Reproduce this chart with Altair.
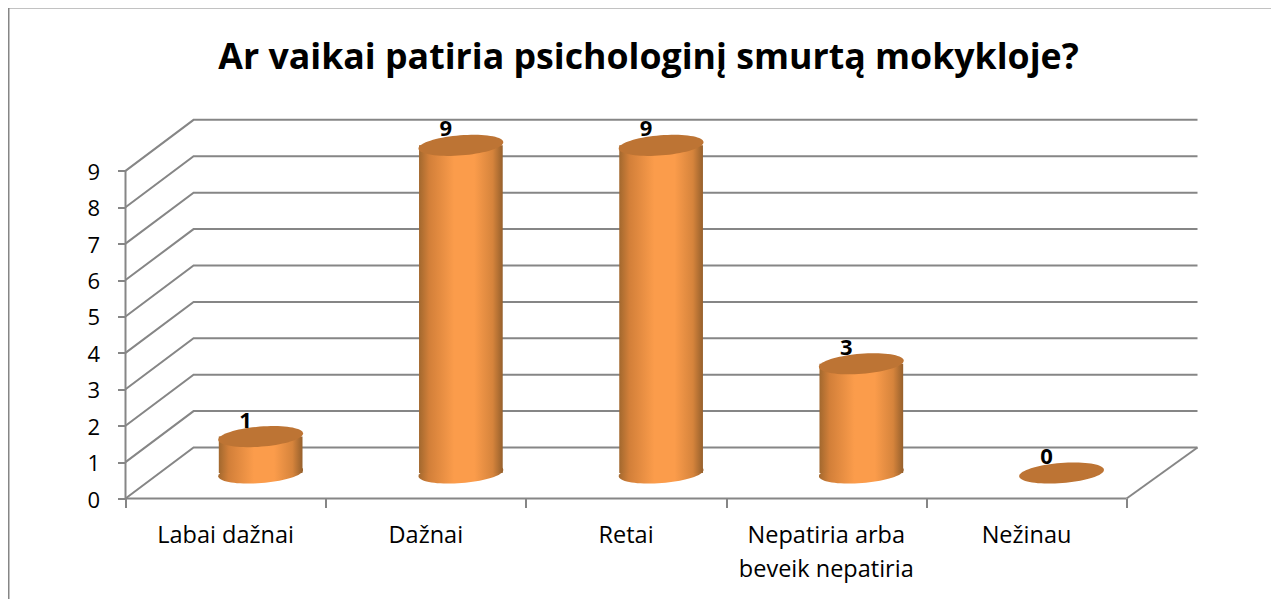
import math
import altair as alt
import pandas as pd

TITLE = "Ar vaikai patiria psichologinį smurtą mokykloje?"
CATEGORIES = ["Labai dažnai", "Dažnai", "Retai", "Nepatiria arba\nbeveik nepatiria", "Nežinau"]
VALUES = [1, 9, 9, 3, 0]
LEVELS = [0, 1, 2, 3, 4, 5, 6, 7, 8, 9]
CAT_TICKS = [0, 1, 2, 3, 4, 5]

FONT = "Open Sans"
GREY = "#868686"

# pseudo-3D geometry in data units
DEPTH_X0 = 0.34
DEPTH_X1 = 5.354
DEPTH_Y = 1.4
CENTER_X = 0.675
CENTER_Y = 0.7
HALF_W = 0.209

x_scale = alt.Scale(domain=[0, DEPTH_X1], nice=False, zero=False)
y_scale = alt.Scale(domain=[0, 10.41], nice=False, zero=False)

rows = []
for v in LEVELS:
    rows += [
        {"level": v, "x": 0, "y": v},
        {"level": v, "x": DEPTH_X0, "y": v + DEPTH_Y},
        {"level": v, "x": DEPTH_X1, "y": v + DEPTH_Y},
    ]
walls = pd.DataFrame(rows)
floor_right = pd.DataFrame([{"x": 5, "y": 0}, {"x": DEPTH_X1, "y": DEPTH_Y}])
cyl = pd.DataFrame({
    "cat": CATEGORIES,
    "value": VALUES,
    "mid": [i + CENTER_X for i in range(len(VALUES))],
})
cyl["left"] = cyl["mid"] - HALF_W
cyl["right"] = cyl["mid"] + HALF_W
cyl["base"] = CENTER_Y
cyl["top"] = cyl["value"] + CENTER_Y
cyl_body = cyl[cyl["value"] > 0]
cats = pd.DataFrame({"cat": CATEGORIES, "x": [i + 0.5 for i in range(len(CATEGORIES))], "y": [-0.70] * len(CATEGORIES)})

x_axis = alt.Axis(values=CAT_TICKS, labels=False, domain=False, grid=False, title=None,
                  tickSize=9, tickColor=GREY, tickWidth=2)
y_axis = alt.Axis(values=LEVELS, domain=False, grid=False, title=None, format="d",
                  tickSize=8, tickColor=GREY, tickWidth=2, labelFont=FONT, labelFontSize=22,
                  labelColor="#000000", labelPadding=18, labelOffset=1.5)
X = lambda f="x": alt.X(f"{f}:Q", scale=x_scale, axis=x_axis)
Y = lambda f="y": alt.Y(f"{f}:Q", scale=y_scale, axis=y_axis)

tilt = math.radians(-4.5)
pts = []
for k in range(72):
    t = 2 * math.pi * k / 72
    ex, ey = 0.995 * math.cos(t), 0.235 * math.sin(t)
    pts.append((ex * math.cos(tilt) - ey * math.sin(tilt), ex * math.sin(tilt) + ey * math.cos(tilt)))
ELLIPSE = "M" + "L".join(f"{a:.4f},{b:.4f}" for a, b in pts) + "Z"
ELLIPSE_SIZE = 85.5 ** 2

body_fill = alt.LinearGradient(
    gradient="linear", x1=0, x2=1, y1=0, y2=0,
    stops=[
        alt.GradientStop(color="#a2682e", offset=0),
        alt.GradientStop(color="#d27f39", offset=0.12),
        alt.GradientStop(color="#fb9c4b", offset=0.42),
        alt.GradientStop(color="#fb9c4b", offset=0.66),
        alt.GradientStop(color="#d6843c", offset=0.88),
        alt.GradientStop(color="#96602c", offset=1),
    ],
)

wall_lines = alt.Chart(walls).mark_line(color=GREY, strokeWidth=2).encode(x=X(), y=Y(), detail="level:N")
floor_line = alt.Chart(floor_right).mark_line(color=GREY, strokeWidth=2).encode(x=X(), y=Y())
front_x = alt.Chart(pd.DataFrame({"a": [0], "b": [5], "y": [0]})).mark_rule(color=GREY, strokeWidth=2).encode(
    x=X("a"), x2="b:Q", y=Y())
front_y = alt.Chart(pd.DataFrame({"x": [0], "a": [0], "b": [9]})).mark_rule(color=GREY, strokeWidth=2).encode(
    x=X(), y=Y("a"), y2="b:Q")

bottoms = alt.Chart(cyl_body).mark_point(shape=ELLIPSE, size=ELLIPSE_SIZE, filled=True, opacity=1, color=body_fill).encode(
    x=X("mid"), y=Y("base"))
bodies = alt.Chart(cyl_body).mark_bar(color=body_fill).encode(
    x=X("left"), x2="right:Q", y=Y("base"), y2="top:Q")
tops = alt.Chart(cyl).mark_point(shape=ELLIPSE, size=ELLIPSE_SIZE, filled=True, opacity=1, color="#bd7434").encode(
    x=X("mid"), y=Y("top"))
value_labels = alt.Chart(cyl).mark_text(
    font=FONT, fontSize=22, fontWeight="bold", color="#000000", dx=-15, dy=-16, baseline="middle"
).encode(x=X("mid"), y=Y("top"), text="value:Q")
cat_labels = alt.Chart(cats).mark_text(
    font=FONT, fontSize=23.5, color="#000000", baseline="top", lineBreak="\n", lineHeight=34
).encode(x=X(), y=Y(), text="cat:N")

frame_left = alt.Chart(pd.DataFrame({"k": [0]})).mark_rule(color=GREY, strokeWidth=2).encode(
    x=alt.value(-117), y=alt.value(-112), y2=alt.value(490))
frame_top = alt.Chart(pd.DataFrame({"k": [0]})).mark_rule(color=GREY, strokeWidth=2).encode(
    x=alt.value(-117), x2=alt.value(1146), y=alt.value(-112))
title_mark = alt.Chart(pd.DataFrame({"t": [TITLE]})).mark_text(
    font=FONT, fontSize=35.7, fontWeight="bold", color="#000000", baseline="middle"
).encode(x=alt.value(523), y=alt.value(-62), text="t:N")

chart = alt.layer(
    frame_left, frame_top, title_mark, wall_lines, floor_line, front_x, front_y,
    bottoms, bodies, tops, value_labels, cat_labels,
).properties(
    width=1072,
    height=379,
    autosize=alt.AutoSizeParams(type="none"),
    padding={"left": 117.5, "top": 111.5, "right": 73.5, "bottom": 100},
    background="#ffffff",
).configure_view(stroke=None)

chart.save("out.html", embed_options={"renderer": "svg", "actions": False})
